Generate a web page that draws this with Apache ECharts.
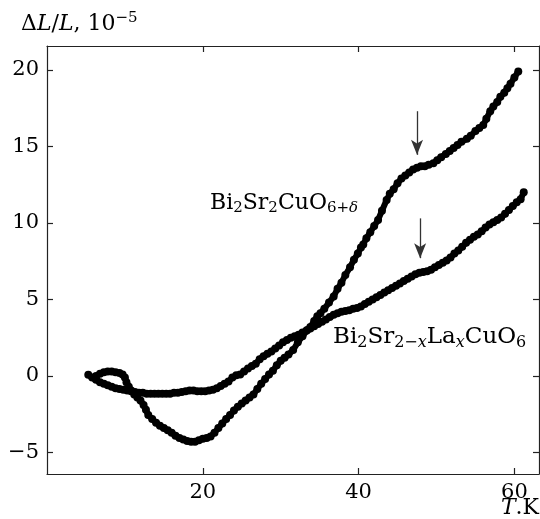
<!DOCTYPE html>
<html>
<head>
<meta charset="utf-8">
<script src="https://cdn.jsdelivr.net/npm/echarts@6/dist/echarts.min.js"></script>
<style>
html,body{margin:0;padding:0;background:#fff;}
#chart{width:540px;height:519px;}
</style>
</head>
<body>
<div id="chart"></div>
<script>
// Bi2Sr2CuO6+delta  [T (K), dL/L (1e-5)]
const seriesDelta = [
[6.3,0.0],[6.8,0.15],[7.3,0.25],[7.8,0.3],[8.3,0.3],[8.8,0.25],[9.3,0.2],[9.7,0.1],[10.0,-0.1],[10.2,-0.4],
[10.5,-0.7],[10.8,-0.95],[11.2,-1.2],[11.6,-1.4],[12.0,-1.6],[12.4,-1.9],[12.7,-2.2],[13.0,-2.55],[13.5,-2.8],[14.0,-3.05],
[14.5,-3.25],[15.0,-3.4],[15.5,-3.55],[16.0,-3.7],[16.5,-3.9],[17.0,-4.05],[17.5,-4.15],[18.0,-4.25],[18.5,-4.3],[19.0,-4.3],
[19.5,-4.2],[20.0,-4.1],[20.5,-4.05],[21.0,-3.95],[21.5,-3.7],[22.0,-3.4],[22.5,-3.1],[23.0,-2.8],[23.5,-2.55],[24.0,-2.25],
[24.5,-2.0],[25.0,-1.8],[25.5,-1.6],[26.0,-1.4],[26.5,-1.2],[27.0,-0.85],[27.5,-0.5],[28.0,-0.2],[28.5,0.1],[29.0,0.35],
[29.5,0.7],[30.0,1.0],[30.5,1.2],[31.0,1.4],[31.6,1.7],[32.2,2.2],[32.8,2.6],[33.4,3.0],[33.8,3.2],[34.3,3.6],
[34.7,3.9],[35.1,4.1],[35.6,4.4],[36.2,4.8],[36.8,5.2],[37.3,5.7],[37.8,6.1],[38.3,6.6],[38.9,7.1],[39.4,7.6],
[39.9,8.0],[40.3,8.4],[40.6,8.6],[41.0,9.0],[41.5,9.4],[42.0,9.8],[42.5,10.2],[43.0,10.8],[43.6,11.5],[44.0,11.9],
[44.5,12.2],[45.0,12.6],[45.5,12.9],[46.0,13.1],[46.5,13.3],[47.0,13.5],[47.5,13.6],[48.0,13.7],[48.5,13.7],[49.0,13.8],
[49.6,13.9],[50.1,14.1],[50.6,14.3],[51.2,14.5],[51.7,14.7],[52.2,14.9],[52.7,15.1],[53.2,15.3],[53.9,15.5],[54.4,15.7],
[55.0,16.0],[55.5,16.2],[56.0,16.4],[56.4,16.8],[56.9,17.3],[57.3,17.6],[57.8,17.9],[58.2,18.25],[58.7,18.5],[59.1,18.8],
[59.5,19.1],[60.0,19.5],[60.5,19.9]
];
// Bi2Sr2-xLaxCuO6
const seriesLa = [
[5.3,0.08],[5.8,-0.1],[6.3,-0.25],[6.8,-0.4],[7.3,-0.5],[7.8,-0.6],[8.3,-0.7],[8.8,-0.8],[9.3,-0.85],[9.8,-0.9],
[10.3,-0.95],[10.8,-1.0],[11.3,-1.05],[11.8,-1.1],[12.3,-1.1],[12.8,-1.15],[13.3,-1.15],[13.8,-1.15],[14.3,-1.15],[14.8,-1.15],
[15.3,-1.15],[15.8,-1.15],[16.3,-1.1],[16.8,-1.1],[17.3,-1.05],[17.8,-1.0],[18.3,-0.95],[18.8,-0.95],[19.3,-1.0],[19.8,-1.0],
[20.3,-1.0],[20.8,-0.95],[21.3,-0.9],[21.8,-0.8],[22.3,-0.65],[22.8,-0.5],[23.3,-0.35],[23.8,-0.1],[24.3,0.05],[24.8,0.1],
[25.3,0.3],[25.8,0.5],[26.3,0.65],[26.8,0.8],[27.3,1.1],[27.8,1.3],[28.3,1.45],[28.8,1.6],[29.3,1.8],[29.8,2.0],
[30.3,2.2],[30.8,2.35],[31.3,2.5],[31.8,2.6],[32.3,2.7],[32.8,2.85],[33.3,2.95],[33.8,3.1],[34.3,3.25],[34.8,3.4],
[35.3,3.55],[35.8,3.7],[36.3,3.85],[36.8,4.0],[37.3,4.1],[37.8,4.2],[38.3,4.25],[38.8,4.3],[39.3,4.4],[39.8,4.45],
[40.3,4.55],[40.8,4.7],[41.3,4.85],[41.8,5.0],[42.3,5.15],[42.8,5.3],[43.3,5.45],[43.8,5.6],[44.3,5.75],[44.8,5.9],
[45.3,6.05],[45.8,6.2],[46.3,6.35],[46.8,6.5],[47.3,6.65],[47.8,6.75],[48.3,6.8],[48.8,6.85],[49.3,6.95],[49.8,7.1],
[50.3,7.25],[50.8,7.4],[51.3,7.55],[51.8,7.75],[52.3,8.0],[52.8,8.2],[53.3,8.45],[53.8,8.7],[54.3,8.9],[54.8,9.1],
[55.3,9.25],[55.8,9.45],[56.3,9.7],[56.8,9.9],[57.3,10.05],[57.8,10.2],[58.3,10.35],[58.8,10.6],[59.3,10.85],[59.8,11.1],
[60.3,11.35],[60.8,11.55],[61.2,12.0]
];
const xTicks = [20, 40, 60];
const yTicks = [-5, 0, 5, 10, 15, 20];
// arrows marking the anomalies: [x, yStart, yEnd]
const arrowSegments = [[47.5, 17.3, 14.45], [47.9, 10.3, 7.7]];

const FONT = 'DejaVu Serif';
const xMin = 0, xMax = 63.16, yMin = -6.4, yMax = 21.56;

const chart = echarts.init(document.getElementById('chart'), null, {renderer: 'canvas'});

function axisCommon(ticks, showLabel) {
  return {
    type: 'value',
    axisLine: {show: true, onZero: false, lineStyle: {color: '#222', width: 1.2}},
    axisTick: {show: true, inside: true, length: 6, customValues: ticks, lineStyle: {color: '#222', width: 1.2}},
    axisLabel: showLabel ? {
      show: true, customValues: ticks, fontFamily: FONT, fontSize: 21, color: '#000', margin: 8,
      formatter: v => String(v).replace('-', '\u2212')
    } : {show: false},
    splitLine: {show: false}
  };
}

const rich = {
  m: {fontFamily: FONT, fontSize: 22, lineHeight: 26, verticalAlign: 'middle', color: '#000'},
  mi: {fontFamily: FONT, fontSize: 22, lineHeight: 26, fontStyle: 'italic', verticalAlign: 'middle', color: '#000'},
  s: {fontFamily: FONT, fontSize: 15, lineHeight: 16, verticalAlign: 'bottom', color: '#000'},
  si: {fontFamily: FONT, fontSize: 15, lineHeight: 16, fontStyle: 'italic', verticalAlign: 'bottom', color: '#000'},
  sup: {fontFamily: FONT, fontSize: 15, lineHeight: 12, verticalAlign: 'top', color: '#000'},
  m2: {fontFamily: FONT, fontSize: 23, lineHeight: 26, verticalAlign: 'middle', color: '#000'},
  s2: {fontFamily: FONT, fontSize: 16, lineHeight: 16, verticalAlign: 'bottom', color: '#000'},
  si2: {fontFamily: FONT, fontSize: 16, lineHeight: 16, fontStyle: 'italic', verticalAlign: 'bottom', color: '#000'}
};

const option = {
  animation: false,
  backgroundColor: '#fff',
  grid: {left: 47, right: 1, top: 46, bottom: 45, containLabel: false},
  xAxis: [
    Object.assign(axisCommon(xTicks, true), {min: xMin, max: xMax, position: 'bottom'}),
    Object.assign(axisCommon(xTicks, false), {min: xMin, max: xMax, position: 'top'})
  ],
  yAxis: [
    Object.assign(axisCommon(yTicks, true), {min: yMin, max: yMax, position: 'left'}),
    Object.assign(axisCommon(yTicks, false), {min: yMin, max: yMax, position: 'right'})
  ],
  series: [
    {
      name: 'Bi2Sr2CuO6+δ', type: 'line', data: seriesDelta,
      symbol: 'circle', symbolSize: 8, showSymbol: true,
      itemStyle: {color: '#000'}, lineStyle: {color: '#000', width: 6},
      silent: true,
      markLine: {
        silent: true, animation: false,
        symbol: ['none', 'arrow'], symbolSize: [9, 15],
        label: {show: false},
        lineStyle: {color: '#333', width: 1.3, type: 'solid'},
        data: arrowSegments.map(a => [{coord: [a[0], a[1]]}, {coord: [a[0], a[2]]}])
      }
    },
    {
      name: 'Bi2Sr2-xLaxCuO6', type: 'line', data: seriesLa,
      symbol: 'circle', symbolSize: 8, showSymbol: true,
      itemStyle: {color: '#000'}, lineStyle: {color: '#000', width: 6},
      silent: true
    }
  ],
  graphic: [
    {type: 'text', left: 21, top: 11, style: {text: '{m|Δ}{mi|L}{m|/}{mi|L}{m|, 10}{sup|\u22125}', rich: rich}},
    {type: 'text', right: 1, top: 497, style: {text: '{mi|T}{m|.K}', rich: rich}},
    {type: 'text', left: 210, top: 192, style: {text: '{m|Bi}{s|2}{m|Sr}{s|2}{m|CuO}{s|6+}{si|δ}', rich: rich}},
    {type: 'text', left: 333, top: 326, style: {text: '{m2|Bi}{s2|2}{m2|Sr}{s2|2\u2212}{si2|x}{m2|La}{si2|x}{m2|CuO}{s2|6}', rich: rich}}
  ]
};
chart.setOption(option);
</script>
</body>
</html>
